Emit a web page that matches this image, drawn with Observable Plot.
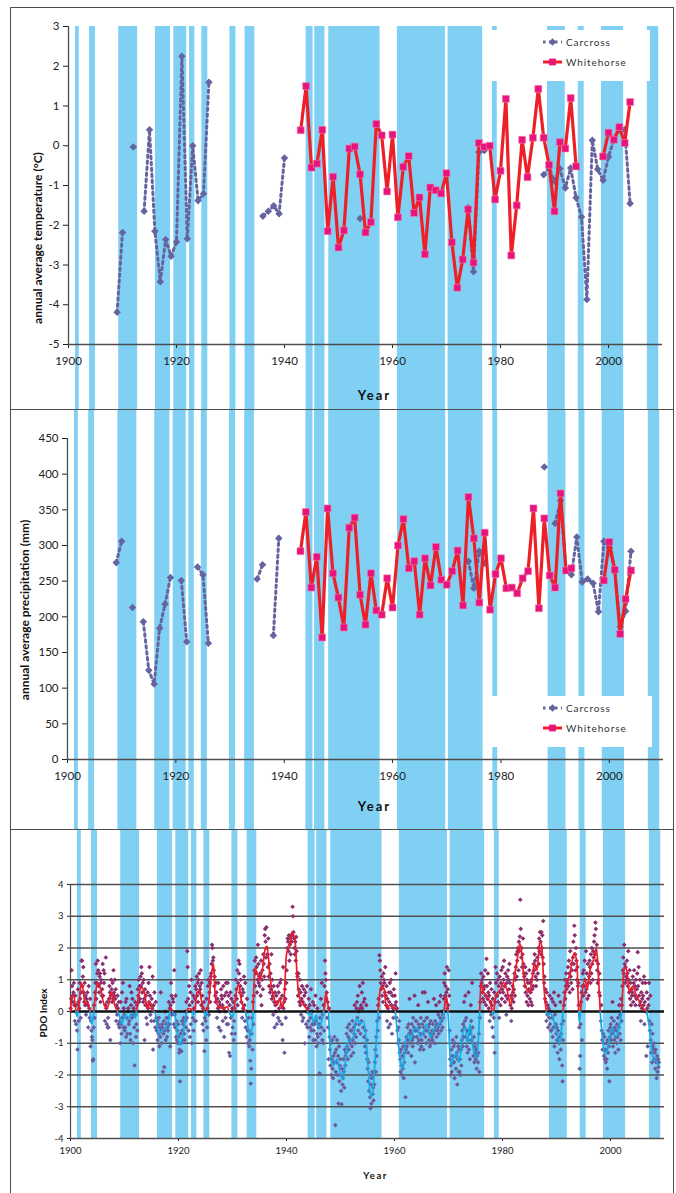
<!DOCTYPE html>
<html>
<head>
<meta charset="utf-8">
<script src="https://cdn.jsdelivr.net/npm/d3@7"></script>
<script src="https://cdn.jsdelivr.net/npm/@observablehq/plot@0.6"></script>
<style>
  html, body { margin: 0; padding: 0; background: #fff; }
  #page { position: relative; width: 676px; height: 1193px; overflow: hidden; font-family: Lato, "Open Sans", sans-serif; }
  .panel { position: absolute; left: 0; width: 676px; }
  .frame { position: absolute; border: 1.5px solid #4d4d4d; box-sizing: border-box; pointer-events: none; }
  .legend { position: absolute; background: #fff; }
  .ytitle { position: absolute; white-space: nowrap; font-weight: bold; color: #111; transform: translate(-50%, -50%) rotate(-90deg); }
</style>
</head>
<body>
<div id="page"></div>
<script>
// ---- axis ticks ----
const xTicks = [1900, 1920, 1940, 1960, 1980, 2000];
const tempTicks = [-5, -4, -3, -2, -1, 0, 1, 2, 3];
const precipTicks = [0, 50, 100, 150, 200, 250, 300, 350, 400, 450];
const pdoTicks = [-4, -3, -2, -1, 0, 1, 2, 3, 4];

// ---- negative PDO phases (shaded bands), [start, end] in years ----
const coldBands = [
  [1901.3, 1902.0], [1903.9, 1905.0], [1909.3, 1912.8], [1916.1, 1918.9],
  [1919.5, 1921.9], [1922.4, 1923.4], [1924.7, 1925.8], [1929.9, 1931.0],
  [1932.7, 1934.5], [1944.0, 1945.3], [1945.6, 1947.5], [1948.2, 1957.7],
  [1960.9, 1969.8], [1970.3, 1976.7], [1978.5, 1979.4], [1988.7, 1992.0],
  [1994.4, 1995.5], [1998.7, 2002.8], [2007.2, 2009.3]
];

// ---- annual average temperature (°C) ----
const carcrossTemp = [
  [1909,-4.19],[1910,-2.18],[1911,null],[1912,-0.03],[1913,null],[1914,-1.65],[1915,0.40],
  [1916,-2.15],[1917,-3.42],[1918,-2.36],[1919,-2.78],[1920,-2.42],[1921,2.25],[1922,-2.34],
  [1923,0.00],[1924,-1.38],[1925,-1.21],[1926,1.60],[1927,null],
  [1935,null],[1936,-1.77],[1937,-1.65],[1938,-1.51],[1939,-1.71],[1940,-0.31],[1941,null],
  [1953,null],[1954,-1.83],[1955,null],
  [1973,null],[1974,-1.56],[1975,-3.17],[1976,-0.16],[1977,-0.12],[1978,null],
  [1987,null],[1988,-0.73],[1989,-0.55],[1990,-0.89],[1991,-0.58],[1992,-1.06],[1993,-0.56],
  [1994,-1.31],[1995,-1.79],[1996,-3.87],[1997,0.14],[1998,-0.59],[1999,-0.87],[2000,-0.28],
  [2001,0.16],[2002,0.40],[2003,0.41],[2004,-1.45]
];
const whitehorseTemp = [
  [1943,0.39],[1944,1.50],[1945,-0.55],[1946,-0.45],[1947,0.40],[1948,-2.15],[1949,-0.78],
  [1950,-2.56],[1951,-2.13],[1952,-0.07],[1953,-0.02],[1954,-0.72],[1955,-2.18],[1956,-1.92],
  [1957,0.55],[1958,0.26],[1959,-1.15],[1960,0.28],[1961,-1.80],[1962,-0.53],[1963,-0.26],
  [1964,-1.69],[1965,-1.30],[1966,-2.73],[1967,-1.05],[1968,-1.12],[1969,-1.20],[1970,-0.69],
  [1971,-2.43],[1972,-3.57],[1973,-2.86],[1974,-1.60],[1975,-2.94],[1976,0.07],[1977,-0.03],
  [1978,0.00],[1979,-1.35],[1980,-0.63],[1981,1.18],[1982,-2.76],[1983,-1.50],[1984,0.15],
  [1985,-0.79],[1986,0.20],[1987,1.43],[1988,0.20],[1989,-0.48],[1990,-1.65],[1991,0.09],
  [1992,-0.07],[1993,1.20],[1994,-0.52],[1995,null],
  [1998,null],[1999,-0.27],[2000,0.33],[2001,0.15],[2002,0.47],[2003,0.07],[2004,1.10]
];

// ---- annual average precipitation (mm) ----
const carcrossPrecip = [
  [1909,276],[1910,306],[1911,null],[1912,213],[1913,null],[1914,193],[1915,125],[1916,106],
  [1917,184],[1918,218],[1919,255],[1920,null],[1921,251],[1922,165],[1923,null],[1924,270],
  [1925,259],[1926,163],[1927,null],
  [1934,null],[1935,253],[1936,273],[1937,null],[1938,174],[1939,310],[1940,null],
  [1973,null],[1974,278],[1975,240],[1976,292],[1977,275],[1978,null],
  [1987,null],[1988,410],[1989,null],[1990,331],[1991,363],[1992,265],[1993,259],[1994,312],
  [1995,249],[1996,253],[1997,247],[1998,207],[1999,306],[2000,297],[2001,264],[2002,186],
  [2003,208],[2004,292]
];
const whitehorsePrecip = [
  [1943,292],[1944,347],[1945,241],[1946,284],[1947,171],[1948,352],[1949,261],[1950,227],
  [1951,185],[1952,325],[1953,339],[1954,231],[1955,189],[1956,261],[1957,209],[1958,203],
  [1959,254],[1960,213],[1961,300],[1962,337],[1963,268],[1964,278],[1965,203],[1966,282],
  [1967,244],[1968,298],[1969,252],[1970,245],[1971,264],[1972,293],[1973,216],[1974,368],
  [1975,310],[1976,220],[1977,318],[1978,210],[1979,260],[1980,282],[1981,240],[1982,241],
  [1983,233],[1984,254],[1985,264],[1986,352],[1987,212],[1988,338],[1989,258],[1990,241],
  [1991,373],[1992,265],[1993,268],[1994,null],
  [1998,null],[1999,251],[2000,305],[2001,266],[2002,176],[2003,225],[2004,265]
];

// ---- monthly PDO index, one row of 12 months per year ----
const pdo1900s = [
  [0.1,0.4,1.3,0.8,0.5,0.3,0.6,0.9,0.2,-0.3,0.5,0.0],
  [-0.4,0.2,-0.6,-1.2,0.7,0.3,-0.3,0.1,0.9,0.4,-0.2,0.6],
  [1.6,1.6,0.8,1.1,1.4,0.6,0.3,0.9,0.2,0.5,-0.1,0.4],
  [0.3,0.6,0.2,-0.5,0.8,0.1,-0.2,0.4,-1.1,-0.3,-0.6,-0.8],
  [-0.9,-1.55,-1.5,-0.5,0.2,-0.2,0.6,0.9,1.5,0.4,0.9,1.2],
  [1.6,1.3,0.8,0.6,1.1,1.2,0.3,0.9,1.0,0.5,0.7,1.5],
  [0.5,1.3,0.9,1.2,-0.3,0.2,1.7,0.1,-0.4,0.3,-0.5,-0.2],
  [-0.5,0.4,0.8,0.6,-0.9,0.5,1.0,0.7,0.3,0.9,0.4,1.3],
  [0.6,0.5,1.0,0.4,0.7,-0.3,0.2,-0.1,0.5,0.1,-0.4,0.3],
  [-0.5,-0.3,-1.0,0.3,-0.4,-0.7,0.6,-0.2,0.9,-0.5,0.1,-0.1]
];
const pdo1910s = [
  [-0.6,-0.5,0.3,-0.8,0.4,-0.2,-0.7,0.0,0.1,-0.4,-0.3,0.8],
  [-0.7,-0.9,0.2,0.6,-0.2,0.4,-0.1,-1.0,0.1,-0.5,-1.7,0.3],
  [-0.1,-0.8,-0.4,0.2,-0.6,0.7,0.5,1.0,0.3,0.8,0.4,1.1],
  [0.8,1.4,1.2,0.6,0.9,0.3,1.0,0.4,-0.9,0.7,0.2,0.5],
  [-0.2,0.2,-0.4,0.6,0.1,0.9,0.3,1.4,0.5,-0.1,0.2,-0.3],
  [0.4,0.1,1.1,-1.2,0.2,-0.3,0.6,0.0,-0.5,0.3,-0.2,-0.6],
  [-0.3,-0.9,-0.4,-0.7,-0.2,-1.1,-0.5,-0.8,0.6,-0.6,-1.0,-0.4],
  [-0.5,-1.9,-0.7,-0.3,-1.75,-0.6,0.0,-0.9,-0.4,-0.2,-0.8,-0.5],
  [-0.6,-0.2,0.3,-0.4,0.1,-1.1,0.2,0.9,0.5,-0.1,0.0,0.4],
  [0.3,-0.4,1.3,-0.1,-0.5,0.5,-0.8,-0.3,-0.9,-0.6,-1.0,-0.4]
];
const pdo1920s = [
  [-0.8,-1.3,-1.2,-2.2,-0.7,-1.0,-1.25,-0.3,-0.6,-0.9,-0.4,-0.2],
  [-0.7,-0.9,-0.3,0.0,-0.5,0.3,-0.2,1.9,1.4,0.4,-0.6,0.8],
  [0.2,-0.8,0.6,-0.4,1.0,-1.0,0.3,-0.2,0.5,-0.6,0.1,-0.3],
  [0.4,0.8,-0.3,0.7,1.1,0.5,0.9,0.3,1.0,1.2,0.6,0.8],
  [0.7,1.3,0.2,0.9,0.5,-0.4,0.1,-0.6,0.3,-1.25,-0.2,0.0],
  [-0.3,-0.9,0.4,-0.5,0.1,0.8,1.0,-0.1,0.6,0.9,0.3,1.1],
  [1.2,1.5,2.1,2.0,1.6,1.7,1.3,0.8,1.1,0.5,0.3,0.9],
  [0.6,-0.2,0.4,0.1,0.9,-0.5,0.3,0.0,0.2,-0.6,0.7,0.5],
  [0.4,0.2,-0.3,0.8,0.1,-0.8,0.5,0.0,-0.2,0.9,0.6,-0.4],
  [0.3,0.9,-0.4,0.5,-1.3,0.2,-1.4,0.6,-0.2,0.4,-0.7,0.1]
];
const pdo1930s = [
  [-0.5,0.3,-0.9,-0.3,0.1,-0.7,0.5,1.0,0.7,0.4,1.3,0.2],
  [0.9,1.6,1.2,1.5,0.6,0.8,1.0,0.3,0.5,-0.2,0.7,0.1],
  [0.6,1.1,0.2,-0.3,0.9,-0.5,0.0,-0.8,0.4,-0.6,-1.0,-0.2],
  [-0.6,-1.1,-0.9,-1.55,-2.27,-1.8,-0.7,-0.2,-1.2,0.3,-0.4,0.5],
  [1.3,1.6,0.8,1.2,1.7,1.4,0.6,1.0,2.1,1.5,0.9,1.1],
  [0.8,1.2,0.5,1.6,0.2,1.0,1.3,0.7,1.8,1.5,1.1,2.4],
  [2.6,2.2,1.7,2.65,2.0,1.8,1.4,2.3,1.1,0.8,1.5,0.6],
  [1.2,0.7,1.8,0.4,1.0,0.5,-0.1,0.8,0.3,-0.5,0.6,0.2],
  [0.0,0.5,-0.4,0.3,0.8,-0.2,0.6,0.1,-0.3,0.9,0.4,1.0],
  [0.2,-0.4,0.5,-0.9,1.4,0.1,0.3,-1.3,0.7,0.4,-0.2,0.9]
];
const pdo1940s = [
  [1.3,2.0,2.3,2.2,1.9,2.4,1.6,2.1,2.3,1.8,2.4,2.2],
  [2.4,3.3,3.0,2.5,2.3,2.0,1.8,2.2,1.6,2.35,1.9,1.2],
  [1.1,0.5,1.2,0.7,0.3,1.0,0.2,0.6,-0.1,0.4,0.8,-0.3],
  [0.3,-0.2,0.7,0.5,-1.0,0.2,0.6,-0.4,0.0,0.8,-0.5,0.1],
  [-0.3,0.4,-0.8,0.2,-0.5,-0.2,0.7,-0.6,0.0,-0.4,0.3,-0.9],
  [-0.6,0.2,-0.4,-0.9,0.5,-0.3,-1.1,-0.7,0.1,-0.8,-1.0,-0.5],
  [-0.4,-1.95,-0.2,-0.7,0.4,-0.5,0.9,-0.9,-0.1,-1.0,0.2,-0.6],
  [0.8,1.6,1.2,1.0,0.4,0.6,-0.2,0.3,-0.5,-1.5,0.1,-0.8],
  [-1.2,-1.7,-1.0,-2.0,-1.5,-0.9,-1.8,-2.1,-1.4,-1.6,-0.8,-1.3],
  [-3.58,-1.9,-1.2,-1.6,-0.9,-2.0,-1.4,-2.9,-1.1,-2.2,-1.7,-1.5]
];
const pdo1950s = [
  [-2.0,-2.5,-2.92,-1.8,-2.3,-2.1,-1.5,-1.9,-2.4,-1.2,-1.7,-1.4],
  [-1.3,-0.7,-1.1,-0.5,-1.5,-0.8,-1.2,-0.4,-0.9,-1.0,-0.6,-1.4],
  [-0.6,-1.1,-0.3,-0.9,-1.3,-0.5,-0.7,0.2,-1.0,-0.4,-0.8,0.1],
  [0.3,-0.2,0.5,-0.6,0.0,-0.4,0.8,0.1,-0.7,0.2,-0.3,0.6],
  [0.1,0.9,-0.5,0.3,-0.8,0.4,-1.1,-0.6,-1.3,0.2,-0.9,-1.5],
  [-1.8,-2.2,-1.6,-2.5,-2.0,-2.7,-3.05,-2.3,-2.9,-2.1,-1.9,-2.6],
  [-2.4,-2.8,-2.0,-2.3,-1.6,-1.2,-1.9,-0.8,-1.4,-0.3,-0.6,0.2],
  [0.4,-0.2,1.77,1.6,1.3,0.9,0.7,1.1,0.5,0.8,0.3,1.2],
  [1.0,0.9,0.6,1.4,0.5,0.2,0.8,-0.3,0.4,0.1,-0.5,0.6],
  [0.3,0.9,-0.4,0.6,1.0,0.2,-0.7,0.5,0.1,-0.2,0.7,0.0]
];
const pdo1960s = [
  [0.5,0.2,1.2,0.3,-0.2,0.1,-0.6,-1.0,-0.5,-0.9,-0.3,-1.3],
  [-1.5,-1.9,-1.2,-1.7,-2.0,-1.4,-1.8,-1.1,-2.1,-1.6,-1.3,-1.0],
  [-2.7,-1.2,-0.8,-1.1,-0.5,-0.9,-1.3,-0.4,-0.7,0.4,-1.0,-0.6],
  [-0.7,-1.4,-0.4,-0.9,-1.1,-0.2,-0.8,-0.5,0.5,-1.6,-0.6,-0.3],
  [-0.3,-0.8,-0.6,-1.0,0.2,-0.4,-0.9,-0.5,-1.2,-0.7,-0.2,-1.1],
  [-0.9,-0.4,0.6,-0.7,-1.2,-0.5,-0.3,0.6,-0.8,-0.6,-1.0,-0.2],
  [-0.2,-0.6,0.3,-0.5,-0.9,-0.4,-1.1,-0.7,-0.3,-1.0,-0.8,-0.6],
  [-0.9,-0.4,-0.7,0.4,-0.6,-1.0,-0.3,-0.5,0.2,-0.8,-0.4,-0.6],
  [-0.5,-0.1,-0.7,0.3,-0.4,-0.2,0.5,-0.6,-0.3,0.0,-0.5,-0.1],
  [-0.2,0.4,0.9,1.2,0.5,0.8,0.3,0.6,1.4,0.1,0.7,0.2]
];
const pdo1970s = [
  [1.3,0.5,-0.6,-1.5,-2.0,-1.7,-1.2,-1.9,-1.4,-0.9,-1.6,-1.1],
  [-1.6,-2.1,-1.0,-1.4,-1.8,-0.8,-1.3,-2.3,-1.5,-1.1,-1.9,-1.2],
  [-1.9,-1.5,-2.0,-1.2,-1.7,-0.9,-0.6,-1.1,-0.4,-0.8,0.3,-0.5],
  [-0.3,0.5,-0.8,-0.2,-1.1,-0.6,-1.3,-0.9,0.6,-1.2,-0.7,-1.5],
  [-0.6,0.2,-0.3,-0.9,0.9,-0.5,-1.0,-1.4,-0.8,-1.6,-1.1,-1.3],
  [-1.5,-1.2,-1.8,-1.4,-1.0,-1.6,-1.3,-0.7,-1.9,-0.2,0.3,0.8],
  [1.2,0.9,1.0,0.6,0.4,1.1,0.7,0.3,0.8,1.3,0.5,0.2],
  [1.66,0.8,0.4,1.2,0.6,0.1,0.5,-0.3,0.9,0.3,-0.1,0.7],
  [0.2,-0.5,0.4,-0.8,-0.2,0.6,-1.3,0.3,1.4,0.9,0.5,1.2],
  [0.5,1.0,0.3,0.8,-0.2,1.1,0.6,0.2,0.9,1.3,0.4,0.7]
];
const pdo1980s = [
  [1.4,0.6,1.0,1.6,0.8,0.3,1.2,0.5,-0.1,0.9,1.1,0.4],
  [1.3,1.0,0.7,1.5,0.9,0.2,0.5,-0.3,0.1,0.4,0.8,0.6],
  [0.3,0.7,1.2,0.5,1.0,1.4,1.8,1.1,1.6,1.9,2.0,1.3],
  [2.2,1.9,2.36,3.52,2.6,1.7,2.0,1.4,1.8,2.3,1.5,1.2],
  [1.1,0.8,1.4,0.6,1.2,0.3,1.0,0.5,0.9,0.2,0.7,1.3],
  [0.4,0.9,0.6,0.3,1.0,0.2,0.7,1.2,0.8,1.5,1.3,1.8],
  [1.6,1.1,0.8,1.4,1.0,1.7,1.2,2.0,1.5,2.3,1.9,2.5],
  [2.2,1.8,2.5,2.0,2.4,1.7,2.85,1.5,0.9,1.1,0.4,0.7],
  [0.3,-0.3,0.6,-0.1,0.2,-0.5,0.1,-0.2,0.5,-0.4,0.0,-0.6],
  [-0.6,0.4,-0.2,-0.8,0.3,-0.5,0.6,-1.1,-0.1,0.2,-0.4,-0.7]
];
const pdo1990s = [
  [-0.5,-0.9,-1.3,-0.6,0.5,-1.0,-1.5,-0.8,0.3,-1.2,-0.7,-0.4],
  [-1.7,-2.2,-0.9,-0.3,0.2,0.6,1.0,0.4,0.8,1.2,0.7,0.9],
  [1.0,1.4,0.8,1.6,1.2,0.6,1.9,1.1,0.9,1.5,1.3,0.7],
  [1.7,2.2,1.5,2.7,2.4,1.8,1.3,2.0,1.6,1.0,1.4,0.8],
  [0.9,0.2,-0.5,-1.8,-1.4,-0.4,0.3,0.6,-0.9,0.8,1.2,0.5],
  [1.3,0.8,1.6,1.0,0.6,1.9,0.7,1.2,0.4,1.5,0.9,0.5],
  [1.1,1.6,1.4,0.9,1.8,1.2,2.0,1.5,1.0,1.9,1.7,2.2],
  [2.4,1.8,2.8,2.6,1.6,2.1,1.3,0.9,1.5,1.0,0.6,1.2],
  [0.5,0.0,-0.3,0.2,-0.6,-0.9,-1.2,-0.7,-1.0,-1.4,-0.8,-1.5],
  [-1.2,-1.6,-1.0,-1.5,-1.8,-0.9,-1.3,-0.6,-1.1,-2.2,-0.8,-0.5]
];
const pdo2000s = [
  [-0.4,-0.9,-0.2,-0.7,0.3,-1.1,-0.6,-0.3,-0.9,-0.5,-1.3,-0.8],
  [-0.6,-1.0,-0.4,-0.8,-0.2,-1.2,-0.5,0.2,-0.7,-0.1,-0.9,0.4],
  [-0.3,0.2,0.8,1.3,1.7,1.2,2.1,1.5,0.9,1.4,1.1,1.0],
  [1.6,1.2,0.8,1.9,1.0,0.6,1.3,0.4,0.9,0.2,0.7,0.5],
  [0.6,1.1,0.3,0.9,1.3,0.5,0.8,0.2,1.0,0.4,0.7,1.2],
  [1.87,0.8,1.4,0.5,0.2,1.0,0.3,-0.3,0.6,0.1,0.4,0.9],
  [0.5,0.2,1.1,-0.4,0.3,0.9,0.0,-1.4,0.6,0.1,-1.1,0.4],
  [0.2,0.9,-0.3,-0.6,0.5,-0.9,-1.3,-0.4,-1.6,-0.7,-1.1,-1.2],
  [-1.0,-1.5,-1.3,-1.8,-1.2,-1.6,-2.1,-1.4,-1.9,-1.5,-1.75,-1.6]
];

// ---- smoothed PDO index (running mean), time in decimal years ----
const smoothT = [
  1900.0,1900.3,1900.6,1901.0,1901.2,1901.5,1902.0,1902.4,1902.7,1903.2,1903.6,1903.9,1904.3,1904.6,
  1905.0,1905.6,1906.0,1906.7,1907.2,1907.6,1908.2,1908.7,1909.0,1909.5,1910.1,1910.7,1911.4,1912.0,
  1912.3,1912.6,1913.2,1913.8,1914.2,1914.7,1915.2,1915.7,1916.3,1916.9,1917.5,1918.1,1918.4,1918.6,
  1918.9,1919.4,1920.0,1920.4,1921.0,1921.5,1921.8,1922.5,1922.8,1923.1,1923.4,1923.9,1924.3,1924.8,
  1925.1,1925.6,1926.2,1926.5,1926.8,1927.4,1928.3,1929.0,1929.6,1930.1,1930.5,1931.1,1931.7,1932.4,
  1932.8,1933.3,1933.8,1934.1,1934.6,1935.1,1935.6,1936.1,1936.4,1937.0,1937.6,1938.2,1938.8,1939.1,
  1939.5,1940.0,1940.6,1941.0,1941.6,1942.0,1942.5,1943.2,1943.8,1944.1,1944.6,1945.0,1945.5,1945.9,
  1946.5,1947.0,1947.3,1947.8,1948.2,1948.7,1949.3,1949.9,1950.4,1950.9,1951.3,1951.8,1952.4,1953.0,
  1953.6,1954.3,1954.8,1955.2,1955.6,1956.0,1956.4,1956.9,1957.2,1957.65,1958.1,1958.5,1959.1,1959.5,
  1960.1,1960.6,1961.1,1961.6,1962.0,1962.6,1963.0,1963.5,1964.1,1964.8,1965.4,1966.0,1966.6,1967.2,
  1967.8,1968.5,1968.95,1969.4,1969.7,1970.0,1970.4,1970.9,1971.5,1972.0,1972.5,1973.1,1973.5,1974.0,
  1974.6,1975.25,1975.7,1976.0,1976.5,1977.1,1977.85,1978.3,1978.8,1979.6,1980.2,1980.8,1981.5,1982.0,
  1982.7,1983.2,1983.6,1984.0,1984.5,1985.0,1985.4,1985.9,1986.4,1986.9,1987.3,1987.6,1987.9,1988.2,
  1988.8,1989.5,1990.1,1990.6,1991.0,1991.3,1991.9,1992.5,1993.3,1993.8,1994.0,1994.2,1994.5,1994.7,
  1995.3,1995.7,1996.2,1996.9,1997.4,1997.8,1998.1,1998.6,1999.0,1999.4,1999.95,2000.4,2000.9,2001.3,
  2001.8,2002.1,2002.5,2003.0,2003.5,2004.1,2004.8,2005.4,2006.0,2006.7,2007.2,2007.7,2008.1,2008.6,
  2008.9
];
const smoothV = [
  0.0,0.5,0.5,0.0,-0.15,0.1,0.9,0.6,0.25,0.3,0.0,-0.4,0.0,0.5,
  0.9,0.7,0.35,0.1,0.3,0.6,0.2,0.0,-0.1,-0.4,-0.1,-0.2,-0.05,-0.2,
  0.1,0.5,0.75,0.5,0.1,0.3,0.05,-0.05,-0.7,-0.6,-0.55,-0.3,0.0,0.1,
  0.0,-0.2,-0.9,-1.05,-0.5,0.0,0.1,0.05,-0.1,0.1,0.6,0.65,0.3,0.0,
  -0.15,0.3,1.3,1.5,0.5,0.15,0.1,0.15,-0.1,-0.15,0.35,0.85,0.3,0.0,
  -0.4,-0.8,-0.1,1.35,1.2,1.0,1.4,2.0,2.05,1.0,0.5,0.2,0.4,0.1,
  0.3,1.8,2.1,2.5,2.2,1.0,0.4,0.2,0.05,-0.1,-0.05,-0.35,-0.1,-0.5,
  -0.3,0.1,0.6,0.0,-1.5,-1.7,-1.5,-1.9,-2.15,-1.6,-1.0,-0.9,-0.8,-0.2,
  -0.4,-0.3,-1.0,-2.0,-2.7,-2.5,-1.5,-0.2,0.5,0.8,0.7,0.1,0.2,0.15,
  0.1,-0.8,-1.6,-1.8,-1.0,-0.7,-0.9,-0.6,-0.5,-0.8,-0.6,-0.4,-0.8,-0.6,
  -0.5,-0.3,-0.2,0.3,0.45,-0.3,-1.7,-1.5,-1.3,-1.6,-0.8,-0.5,-1.0,-0.4,
  -1.2,-1.45,-0.3,0.9,0.6,0.5,0.2,-0.1,0.5,0.7,0.9,0.7,0.2,0.9,
  1.6,2.15,1.8,1.0,0.7,0.6,0.9,1.5,1.3,2.2,2.0,1.0,0.3,-0.1,
  -0.05,-0.3,-0.7,-1.0,-0.4,0.2,0.8,1.2,1.85,1.5,0.5,-0.35,0.1,0.5,
  1.0,0.7,1.3,1.65,2.0,1.0,0.0,-1.0,-1.35,-1.2,-0.7,-0.5,-0.8,-0.7,
  -0.3,0.1,1.4,1.3,0.6,0.8,0.5,0.3,0.1,0.0,-0.5,-1.3,-1.5,-1.6,
  -1.7
];

// ---- colours ----
const bandColor = "#80d0f4";
const axisColor = "#4d4d4d";
const carcrossColor = "#65649f";
const whitehorseLine = "#ee1f26";
const whitehorseMark = "#e8147b";
const pdoPosDot = "#8c2d6c";
const pdoNegDot = "#6a5c9c";
const pdoPosLine = "#ee1c24";
const pdoNegLine = "#17a9e4";
const font = "Lato, 'Open Sans', sans-serif";

// ---- derived rows ----
const pdoDecades = [pdo1900s, pdo1910s, pdo1920s, pdo1930s, pdo1940s, pdo1950s,
                    pdo1960s, pdo1970s, pdo1980s, pdo1990s, pdo2000s];
const pdoMonthly = pdoDecades.flatMap((decade, di) =>
  decade.flatMap((row, yi) => row.map((v, m) => ({t: 1900 + di * 10 + yi + (m + 0.5) / 12, v}))));

// Split the smoothed series where it crosses zero so each part can carry its own colour.
function splitAtZero(ts, vs) {
  const pts = [];
  for (let i = 0; i < ts.length; i++) {
    pts.push({t: ts[i], v: vs[i]});
    if (i < ts.length - 1 && vs[i] * vs[i + 1] < 0) {
      const f = vs[i] / (vs[i] - vs[i + 1]);
      pts.push({t: ts[i] + (ts[i + 1] - ts[i]) * f, v: 0});
    }
  }
  const runs = [];
  let cur = null;
  for (let i = 0; i < pts.length - 1; i++) {
    const s = pts[i].v + pts[i + 1].v > 0 ? 1 : -1;
    if (!cur || cur.s !== s) { cur = {s, pts: [pts[i]]}; runs.push(cur); }
    cur.pts.push(pts[i + 1]);
  }
  return runs.flatMap((r, k) => r.pts.map(p => ({t: p.t, v: p.v, k, s: r.s})));
}
const smoothRows = splitAtZero(smoothT, smoothV);

const X = d => d[0], Y = d => d[1];

function setSpacing(svg, label, spacing) {
  d3.select(svg).selectAll("text").each(function () {
    if (this.textContent === label) this.setAttribute("letter-spacing", spacing);
  });
}
// Put the shaded phase bands underneath the axes so tick labels stay readable.
function bandsToBack(svg) {
  const g = svg.querySelector('g[aria-label="rect"]');
  const style = svg.querySelector("style");
  if (g) svg.insertBefore(g, style ? style.nextSibling : svg.firstChild);
}

// ---- panel 1: temperature ----
const tempPlot = Plot.plot({
  width: 676, height: 410,
  marginTop: 26, marginBottom: 66, marginLeft: 68, marginRight: 14,
  style: {fontFamily: font, fontSize: "11.5px", color: "#222", background: "transparent", overflow: "hidden"},
  x: {domain: [1900, 2010], ticks: xTicks, tickFormat: d => String(d), tickSize: 4, tickPadding: 8, label: null},
  y: {domain: [-5, 3], ticks: tempTicks, tickFormat: d => String(d), tickSize: 5, tickPadding: 4, label: null},
  marks: [
    Plot.rect(coldBands, {x1: X, x2: Y, y1: 3, y2: -7.5, fill: bandColor}),
    Plot.ruleY([-5], {stroke: axisColor, strokeWidth: 1.3}),
    Plot.ruleX([1900], {stroke: axisColor, strokeWidth: 1.3}),
    Plot.line(carcrossTemp, {x: X, y: Y, stroke: carcrossColor, strokeWidth: 3, strokeDasharray: "2.5,3.5"}),
    Plot.dot(carcrossTemp, {x: X, y: Y, symbol: "diamond2", r: 3.4, fill: carcrossColor}),
    Plot.line(whitehorseTemp, {x: X, y: Y, stroke: whitehorseLine, strokeWidth: 3.2}),
    Plot.dot(whitehorseTemp, {x: X, y: Y, symbol: "square", r: 3.9, fill: whitehorseMark, stroke: "#f07ab0", strokeWidth: 0.6}),
    Plot.text(["Year"], {frameAnchor: "bottom", dx: 9, dy: 55, fontWeight: "bold", fontSize: 13, fill: "#111"})
  ]
});
setSpacing(tempPlot, "Year", "2");
bandsToBack(tempPlot);

// ---- panel 2: precipitation ----
const precipPlot = Plot.plot({
  width: 676, height: 420,
  marginTop: 28, marginBottom: 71, marginLeft: 67, marginRight: 13,
  style: {fontFamily: font, fontSize: "11.5px", color: "#222", background: "transparent", overflow: "hidden"},
  x: {domain: [1900, 2010], ticks: xTicks, tickFormat: d => String(d), tickSize: 4, tickPadding: 8, label: null},
  y: {domain: [0, 450], ticks: precipTicks, tickFormat: d => String(d), tickSize: 5, tickPadding: 4, label: null},
  marks: [
    Plot.rect(coldBands, {x1: X, x2: Y, y1: 520, y2: -120, fill: bandColor}),
    Plot.ruleY([0], {stroke: axisColor, strokeWidth: 1.3}),
    Plot.ruleX([1900], {stroke: axisColor, strokeWidth: 1.3}),
    Plot.line(carcrossPrecip, {x: X, y: Y, stroke: carcrossColor, strokeWidth: 3, strokeDasharray: "2.5,3.5"}),
    Plot.dot(carcrossPrecip, {x: X, y: Y, symbol: "diamond2", r: 3.4, fill: carcrossColor}),
    Plot.line(whitehorsePrecip, {x: X, y: Y, stroke: whitehorseLine, strokeWidth: 3.2}),
    Plot.dot(whitehorsePrecip, {x: X, y: Y, symbol: "square", r: 3.9, fill: whitehorseMark, stroke: "#f07ab0", strokeWidth: 0.6}),
    Plot.text(["Year"], {frameAnchor: "bottom", dx: 9, dy: 51, fontWeight: "bold", fontSize: 13, fill: "#111"})
  ]
});
setSpacing(precipPlot, "Year", "2");
bandsToBack(precipPlot);

// ---- panel 3: PDO index ----
const gridLevels = pdoTicks.filter(d => d !== 0);
const pdoPlot = Plot.plot({
  width: 676, height: 363,
  marginTop: 54, marginBottom: 55, marginLeft: 70, marginRight: 12,
  style: {fontFamily: font, fontSize: "9.5px", color: "#222", background: "transparent", overflow: "hidden"},
  x: {domain: [1900, 2010], ticks: xTicks, tickFormat: d => String(d), tickSize: 3, tickPadding: 6, label: null},
  y: {domain: [-4, 4], ticks: pdoTicks, tickFormat: d => String(d), tickSize: 3, tickPadding: 4, label: null},
  marks: [
    Plot.rect(coldBands, {x1: X, x2: Y, y1: 6.5, y2: -4, fill: bandColor}),
    Plot.ruleY(gridLevels, {stroke: "#505050", strokeWidth: 1.3}),
    Plot.ruleX([1900], {y1: -4, y2: 4, stroke: axisColor, strokeWidth: 1.2}),
    Plot.dot(pdoMonthly.filter(d => d.v < 0), {x: "t", y: "v", symbol: "diamond2", r: 2.1, fill: pdoNegDot}),
    Plot.dot(pdoMonthly.filter(d => d.v >= 0), {x: "t", y: "v", symbol: "diamond2", r: 2.1, fill: pdoPosDot}),
    Plot.ruleY([0], {stroke: "#111", strokeWidth: 2.6}),
    Plot.line(smoothRows.filter(d => d.s > 0), {x: "t", y: "v", z: "k", stroke: pdoPosLine, strokeWidth: 1.7, curve: "monotone-x"}),
    Plot.line(smoothRows.filter(d => d.s < 0), {x: "t", y: "v", z: "k", stroke: pdoNegLine, strokeWidth: 1.7, curve: "monotone-x"}),
    Plot.text(["Year"], {frameAnchor: "bottom", dx: 8, dy: 40, fontWeight: "bold", fontSize: 9.5, fill: "#111"})
  ]
});
setSpacing(pdoPlot, "Year", "1.5");
bandsToBack(pdoPlot);

// ---- page assembly ----
const page = document.getElementById("page");
function addPanel(svg, top) {
  const div = document.createElement("div");
  div.className = "panel";
  div.style.top = top + "px";
  div.appendChild(svg);
  page.appendChild(div);
  return div;
}
addPanel(tempPlot, 0);
addPanel(precipPlot, 410);
addPanel(pdoPlot, 830);

// Rotated y-axis titles, centred on the given page point.
function addYTitle(text, cx, cy, size) {
  const el = document.createElement("div");
  el.className = "ytitle";
  el.textContent = text;
  Object.assign(el.style, {left: cx + "px", top: cy + "px", fontSize: size + "px"});
  page.appendChild(el);
}
addYTitle("annual average temperature (°C)", 37, 238, 12);
addYTitle("annual average precipitation (mm)", 24, 610, 12);
addYTitle("PDO Index", 43, 1013, 10);

// Series legend: white box with a sample of each station's line and marker.
function addLegend(left, top, width, height, rowY) {
  const box = document.createElement("div");
  box.className = "legend";
  Object.assign(box.style, {left: left + "px", top: top + "px", width: width + "px", height: height + "px"});
  const svg = d3.create("svg").attr("width", width).attr("height", height)
    .style("font-family", font).style("font-size", "10px").style("display", "block");
  const entries = [
    {name: "Carcross", color: carcrossColor, dash: "2.5,3.5", mark: d3.symbolDiamond2, markFill: carcrossColor, size: 36},
    {name: "Whitehorse", color: whitehorseLine, dash: null, mark: d3.symbolSquare, markFill: whitehorseMark, size: 46}
  ];
  entries.forEach((e, i) => {
    const y = rowY[i];
    svg.append("line").attr("x1", 60).attr("x2", 79).attr("y1", y).attr("y2", y)
      .attr("stroke", e.color).attr("stroke-width", 3).attr("stroke-dasharray", e.dash);
    svg.append("path").attr("d", d3.symbol(e.mark, e.size)()).attr("transform", `translate(69.5,${y})`)
      .attr("fill", e.markFill);
    svg.append("text").attr("x", 83).attr("y", y).attr("dy", "0.35em").attr("fill", "#333")
      .attr("letter-spacing", "0.9").text(e.name);
  });
  box.appendChild(svg.node());
  page.appendChild(box);
}
addLegend(483, 30, 167, 51, [12, 32]);
addLegend(483, 696, 169, 51, [12, 32]);

// Panel frames.
[[7, 403], [409, 421], [829, 420]].forEach(([top, h]) => {
  const f = document.createElement("div");
  f.className = "frame";
  Object.assign(f.style, {left: "10px", top: top + "px", width: "664px", height: h + "px"});
  page.appendChild(f);
});
</script>
</body>
</html>
